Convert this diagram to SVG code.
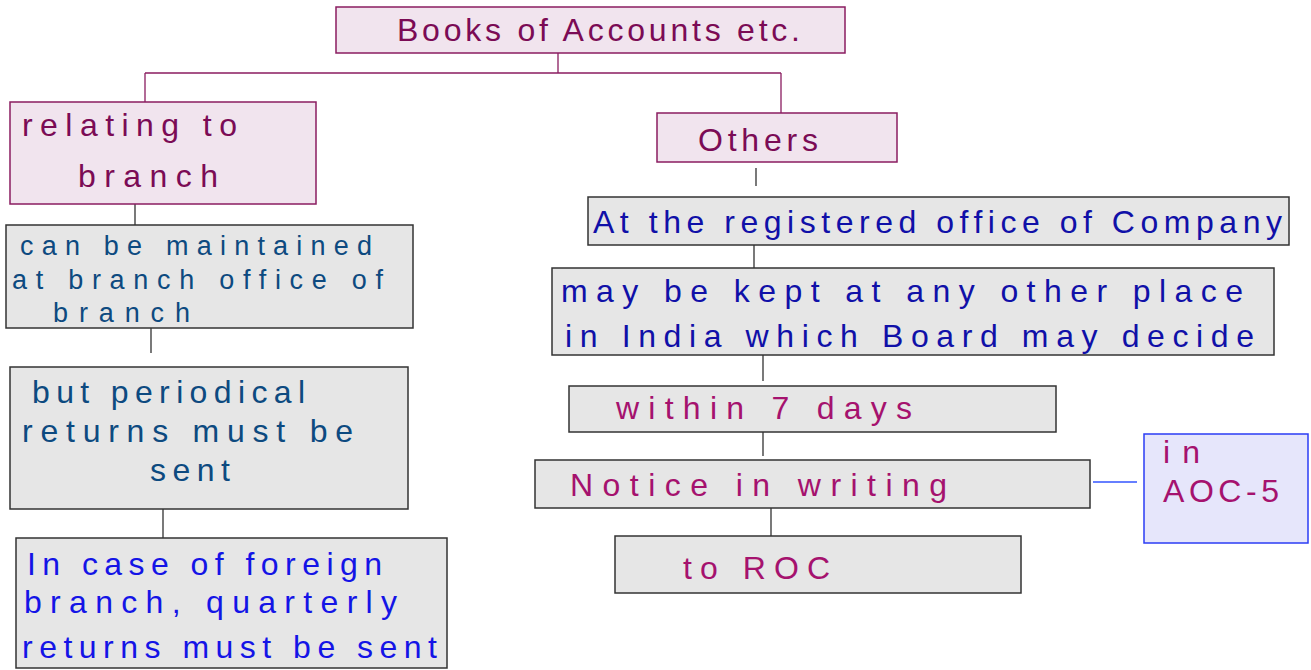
<svg xmlns="http://www.w3.org/2000/svg" width="1311" height="670" viewBox="0 0 1311 670">
<style>
.pk{fill:#f1e4ee;stroke:#8a1d60;stroke-width:1.5}
.gr{fill:#e6e6e6;stroke:#333;stroke-width:1.5}
.lv{fill:#e6e6fb;stroke:#2b3cf5;stroke-width:1.5}
text{font-family:"Liberation Sans",Arial,sans-serif;font-size:32px}
.sm{font-size:27px}
.t-m{fill:#7b0b55}
.t-d{fill:#0d4a80}
.t-b{fill:#1414e6}
.t-n{fill:#1010a8}
.t-p{fill:#a5126e}
.c{stroke:#333;stroke-width:1.3;fill:none}
.cm{stroke:#8a1d60;stroke-width:1.3;fill:none}
</style>
<rect width="1311" height="670" fill="#fff"/>
<g id="connectors">
<path class="cm" d="M558 53V73M145 73H781M145 73V102M781 73V113"/>
<path class="c" d="M135 204V225M151 328V353M163 509V538M756 168V186M754 245V269M763 355V381M763 430V456M771 507V538"/>
<path d="M1093 482H1137" stroke="#3355ff" stroke-width="1.3"/>
</g>
<g id="root"><rect class="pk" x="336" y="7" width="509" height="46"/><text class="t-m" x="397" y="41" textLength="403" lengthAdjust="spacing">Books of Accounts etc.</text></g>
<g id="branch"><rect class="pk" x="10" y="102" width="306" height="102"/><text class="t-m" x="22" y="136" textLength="215" lengthAdjust="spacing">relating to</text><text class="t-m" x="78" y="187" textLength="140" lengthAdjust="spacing">branch</text></g>
<g id="maintained"><rect class="gr" x="6" y="225" width="407" height="103"/><text class="t-d sm" x="20" y="255" textLength="352" lengthAdjust="spacing">can be maintained</text><text class="t-d sm" x="12" y="289" textLength="371" lengthAdjust="spacing">at branch office of</text><text class="t-d sm" x="53" y="322" textLength="137" lengthAdjust="spacing">branch</text></g>
<g id="periodical"><rect class="gr" x="10" y="367" width="398" height="142"/><text class="t-d" x="32" y="403" textLength="273" lengthAdjust="spacing">but periodical</text><text class="t-d" x="22" y="442" textLength="331" lengthAdjust="spacing">returns must be</text><text class="t-d" x="150" y="481" textLength="80" lengthAdjust="spacing">sent</text></g>
<g id="foreign"><rect class="gr" x="16" y="538" width="431" height="130"/><text class="t-b" x="27" y="575" textLength="355" lengthAdjust="spacing">In case of foreign</text><text class="t-b" x="24" y="613" textLength="373" lengthAdjust="spacing">branch, quarterly</text><text class="t-b" x="22" y="658" textLength="415" lengthAdjust="spacing">returns must be sent</text></g>
<g id="others"><rect class="pk" x="657" y="113" width="240" height="49"/><text class="t-m" x="698" y="151" textLength="120" lengthAdjust="spacing">Others</text></g>
<g id="registered"><rect class="gr" x="588" y="197" width="701" height="48"/><text class="t-n" x="593" y="233" textLength="689" lengthAdjust="spacing">At the registered office of Company</text></g>
<g id="other-place"><rect class="gr" x="552" y="268" width="722" height="87"/><text class="t-n" x="561" y="302" textLength="682" lengthAdjust="spacing">may be kept at any other place</text><text class="t-n" x="565" y="347" textLength="689" lengthAdjust="spacing">in India which Board may decide</text></g>
<g id="days"><rect class="gr" x="569" y="386" width="487" height="46"/><text class="t-p" x="616" y="419" textLength="296" lengthAdjust="spacing">within 7 days</text></g>
<g id="notice"><rect class="gr" x="535" y="460" width="555" height="48"/><text class="t-p" x="570" y="496" textLength="377" lengthAdjust="spacing">Notice in writing</text></g>
<g id="roc"><rect class="gr" x="615" y="536" width="406" height="57"/><text class="t-p" x="683" y="579" textLength="147" lengthAdjust="spacing">to ROC</text></g>
<g id="aoc"><rect class="lv" x="1144" y="434" width="164" height="109"/><text class="t-p" x="1163" y="463" textLength="37" lengthAdjust="spacing">in</text><text class="t-p" x="1163" y="502" textLength="116" lengthAdjust="spacing">AOC-5</text></g>
</svg>
